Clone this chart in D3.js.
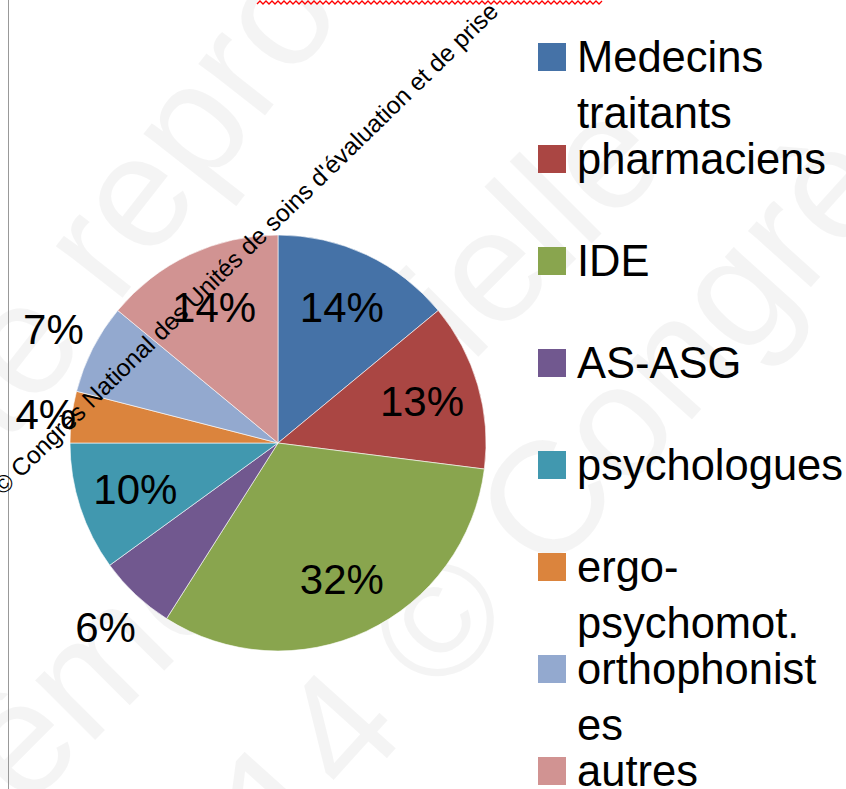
<!DOCTYPE html>
<html lang="fr">
<head>
  <meta charset="UTF-8">
  <title>Répartition des professionnels</title>
  <script src="https://cdn.jsdelivr.net/npm/d3@7"></script>
  <style>
    body { margin: 0; background: #fff; }
    svg { display: block; font-family: "Liberation Sans", Arial, sans-serif; }
    .watermark text { fill: #000; fill-opacity: 0.045; font-size: 160px; }
    .pct { font-size: 42px; fill: #000; }
    .legend text { font-size: 43.5px; fill: #000; }
  </style>
</head>
<body>
<div id="chart"></div>

<script>
  // data
  var categories = ["Medecins traitants", "pharmaciens", "IDE", "AS-ASG",
                    "psychologues", "ergo-psychomot.", "orthophonistes", "autres"];
  var values = [14, 13, 32, 6, 10, 4, 7, 14];
  var legendLines = [["Medecins", "traitants"], ["pharmaciens"], ["IDE"], ["AS-ASG"],
                     ["psychologues"], ["ergo-", "psychomot."], ["orthophonist", "es"], ["autres"]];
  var colors = ["#4572A7", "#AA4643", "#89A54E", "#71588F",
                "#4198AF", "#DB843D", "#93A9CF", "#D19392"];

  var width = 846, height = 789;
  var cx = 278, cy = 443, radius = 208;

  var svg = d3.select("#chart").append("svg")
    .attr("width", width)
    .attr("height", height);

  // faint background watermark
  var wm = svg.append("g").attr("class", "watermark");
  wm.append("text").attr("transform", "translate(-262,790) rotate(-52)").text("interdite reproduction");
  wm.append("text").attr("transform", "translate(-70,905) rotate(-45)").text("même partielle");
  wm.append("text").attr("transform", "translate(171,998) rotate(-48)").text("2014 © Congrès");

  // left border line
  svg.append("line")
    .attr("x1", 8.5).attr("x2", 8.5)
    .attr("y1", 0).attr("y2", height)
    .attr("stroke", "#999").attr("stroke-width", 1);

  // red spell-check squiggle at the top
  var sq = d3.range(257, 604, 3).map(function(x, i) { return [x, i % 2 ? 1 : 4]; });
  svg.append("path")
    .attr("d", d3.line()(sq))
    .attr("fill", "none")
    .attr("stroke", "#ff0000")
    .attr("stroke-width", 1.3);

  var pie = d3.pie().sort(null).value(function(d) { return d; });
  var arcs = pie(values);
  var arc = d3.arc().innerRadius(0).outerRadius(radius);

  var g = svg.append("g").attr("transform", "translate(" + cx + "," + cy + ")");

  g.selectAll("path.slice")
    .data(arcs)
    .enter()
    .append("path")
    .attr("class", "slice")
    .attr("d", arc)
    .attr("fill", function(d, i) { return colors[i]; })
    .attr("stroke", "#fff")
    .attr("stroke-width", 0.6);

  // labels inside for big slices, outside for small ones
  g.selectAll("text.pct")
    .data(arcs)
    .enter()
    .append("text")
    .attr("class", "pct")
    .attr("text-anchor", "middle")
    .attr("dy", "0.36em")
    .attr("transform", function(d) {
      var r = d.data >= 10 ? 150 : (d.data < 5 ? 234 : 252);
      var c = d3.arc().innerRadius(r).outerRadius(r).centroid(d);
      return "translate(" + c[0] + "," + c[1] + ")";
    })
    .text(function(d) { return d.data + "%"; });

  // diagonal copyright overlay
  svg.append("text")
    .attr("transform", "translate(3,496) rotate(-44.2)")
    .attr("font-size", 24.5)
    .attr("fill", "#000")
    .text("© Congrès National des Unités de soins d'évaluation et de prise");

  // legend
  var legend = svg.append("g").attr("class", "legend");
  var item = legend.selectAll("g")
    .data(categories)
    .enter()
    .append("g")
    .attr("transform", function(d, i) { return "translate(538," + (43 + i * 102) + ")"; });

  item.append("rect")
    .attr("width", 28).attr("height", 28)
    .attr("fill", function(d, i) { return colors[i]; });

  item.append("text")
    .attr("x", 39)
    .attr("y", 29)
    .selectAll("tspan")
    .data(function(d, i) { return legendLines[i]; })
    .enter()
    .append("tspan")
    .attr("x", 39)
    .attr("dy", function(d, j) { return j === 0 ? 0 : 56; })
    .text(function(d) { return d; });
</script>

</body>
</html>
